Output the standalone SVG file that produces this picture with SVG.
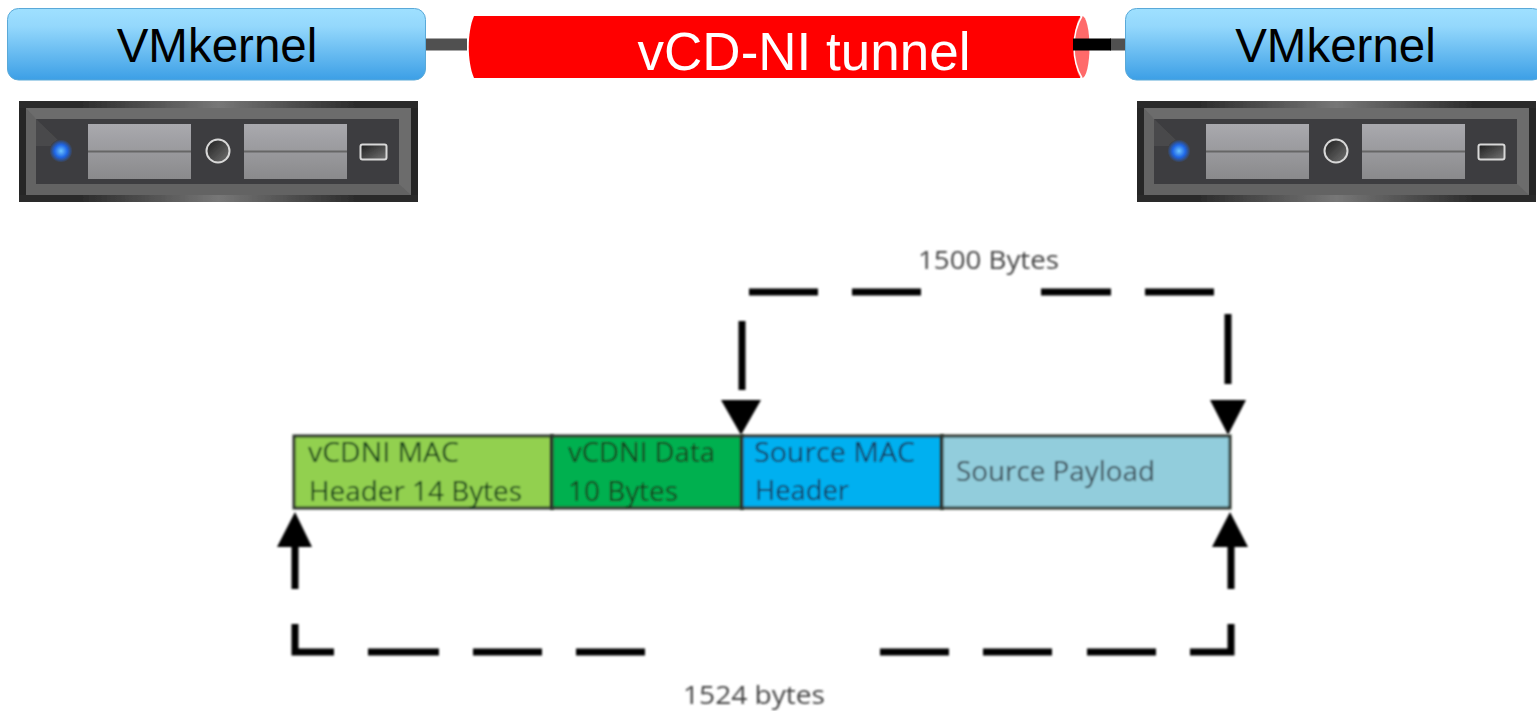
<svg xmlns="http://www.w3.org/2000/svg" xmlns:xlink="http://www.w3.org/1999/xlink" width="1537" height="711" viewBox="0 0 1537 711">
<style>
.vm{font:47.500px "Liberation Sans",Arial,sans-serif;fill:#000}
.cell{font-family:"Open Sans","Liberation Sans",sans-serif;font-size:27px;fill:#12401c}
.lab{font-family:"Open Sans","Liberation Sans",sans-serif;font-size:25px;fill:#444}
.d{fill:none;stroke:#000;stroke-width:7}
.c{stroke:#2a332a;stroke-width:3}
.soft{filter:url(#soft)}
.softer{filter:url(#softer)}
</style>
<defs>
<filter id="soft" x="-5%" y="-5%" width="110%" height="110%"><feGaussianBlur stdDeviation="0.9"/></filter>
<filter id="softer" x="-5%" y="-5%" width="110%" height="110%"><feGaussianBlur stdDeviation="0.6"/></filter>
<linearGradient id="blue" x1="0" y1="0" x2="0" y2="1"><stop offset="0" stop-color="#9fe0ff"/><stop offset=".25" stop-color="#94d8fc"/><stop offset="1" stop-color="#3c9fe6"/></linearGradient>
<linearGradient id="frame" x1="0" y1="0" x2="1" y2="0"><stop offset="0" stop-color="#2a2a2a"/><stop offset=".15" stop-color="#2a2a2a"/><stop offset=".5" stop-color="#777"/><stop offset=".85" stop-color="#2a2a2a"/><stop offset="1" stop-color="#2a2a2a"/></linearGradient>
<linearGradient id="bay" x1="0" y1="0" x2="0" y2="1"><stop offset="0" stop-color="#a9a9ae"/><stop offset="1" stop-color="#8a8a8c"/></linearGradient>
<linearGradient id="knob" x1="0" y1="0" x2="1" y2="1"><stop offset="0" stop-color="#1c1c1c"/><stop offset="1" stop-color="#747474"/></linearGradient>
<radialGradient id="led"><stop offset="0" stop-color="#6cc4ff"/><stop offset=".55" stop-color="#1f66e6"/><stop offset="1" stop-color="#3e3e40"/></radialGradient>
<g id="server">
<rect x="0" y="0" width="399" height="101" fill="#262626"/>
<rect x="0" y="0" width="399" height="7" fill="url(#frame)"/>
<rect x="0" y="94" width="399" height="7" fill="url(#frame)"/>
<rect x="7" y="7" width="385" height="87" fill="#6c6c6c"/>
<path d="M7 7L17 18V83H380L392 94H7Z" fill="#636363"/>
<rect x="17" y="18" width="363" height="65" fill="#3e3e40"/>
<path d="M17 18L45 45H17Z" fill="#4a4a4c"/>
<rect x="69" y="23" width="103" height="55" fill="url(#bay)"/>
<rect x="225" y="23" width="103" height="55" fill="url(#bay)"/>
<rect x="69" y="49.500" width="103" height="2" fill="#666"/>
<rect x="225" y="49.500" width="103" height="2" fill="#666"/>
<circle cx="42" cy="50" r="11.500" fill="url(#led)"/>
<circle cx="199" cy="50" r="11.500" fill="url(#knob)" stroke="#d8d8d8" stroke-width="2"/>
<rect x="341.500" y="43.500" width="26" height="15" rx="2" fill="url(#knob)" stroke="#d8d8d8" stroke-width="2"/>
</g>
</defs>
<g id="connectors">
<rect x="426" y="38.500" width="41" height="12" fill="#505050"/>
<rect x="1110" y="38.500" width="16" height="12" fill="#505050"/>
<g id="upper-bracket" class="soft">
<path class="d" d="M742 390V321M749 292H818M852 292H921M1041 292H1111M1145 292H1214M1228 314V384"/>
<path d="M721 400H761L741 435ZM1210 400H1246L1228 435Z"/>
</g>
<g id="lower-bracket" class="soft">
<path class="d" d="M295 545V589M295 624V652H334M368 652H439M473 652H542M576 652H645M880 652H949M983 652H1052M1087 652H1156M1190 652H1231V624M1231 589V545"/>
<path d="M277 547H312L295 512ZM1212 547H1248L1230 512Z"/>
</g>
</g>
<g id="vmkernel-left"><rect x="7.500" y="8.500" width="418" height="71.500" rx="11" fill="url(#blue)" stroke="#5aa9d8"/><text class="vm" x="217" y="62" text-anchor="middle">VMkernel</text></g>
<g id="vmkernel-right"><rect x="1125.500" y="8.500" width="418" height="71.500" rx="11" fill="url(#blue)" stroke="#5aa9d8"/><text class="vm" x="1335.500" y="62" text-anchor="middle">VMkernel</text></g>
<g id="tunnel">
<path d="M474 16H1080V78H474C467 62 467 32 474 16Z" fill="#f00"/>
<ellipse cx="1082" cy="47" rx="7.500" ry="31" fill="#ff6a6a"/>
<path d="M1082 16C1076 26 1074 36 1074 47C1074 58 1076 68 1082 78" fill="none" stroke="#fff" stroke-width="1.500"/>
<rect x="1073" y="38.500" width="38" height="12" fill="#000"/>
<text x="804" y="70" text-anchor="middle" font-family="'Liberation Sans',Arial,sans-serif" font-size="53" fill="#fff">vCD-NI tunnel</text>
</g>
<g id="server-left" class="softer"><use xlink:href="#server" href="#server" x="19" y="101"/></g>
<g id="server-right" class="softer"><use xlink:href="#server" href="#server" x="1137" y="101"/></g>
<g id="cell-vcdni-mac" class="soft"><rect class="c" x="294" y="436" width="258" height="72" fill="#92d050"/><text class="cell" x="308" y="462" textLength="151" lengthAdjust="spacingAndGlyphs">vCDNI MAC</text><text class="cell" x="309" y="501" textLength="213" lengthAdjust="spacingAndGlyphs">Header 14 Bytes</text></g>
<g id="cell-vcdni-data" class="soft"><rect class="c" x="552" y="436" width="190" height="72" fill="#00b050"/><text class="cell" x="568" y="462" textLength="147" lengthAdjust="spacingAndGlyphs">vCDNI Data</text><text class="cell" x="568" y="501" textLength="110" lengthAdjust="spacingAndGlyphs">10 Bytes</text></g>
<g id="cell-source-mac" class="soft"><rect class="c" x="742" y="436" width="200" height="72" fill="#00b0f0"/><text class="cell" x="754" y="462" textLength="161" lengthAdjust="spacingAndGlyphs" style="fill:#12395a">Source MAC</text><text class="cell" x="755" y="500" textLength="94" lengthAdjust="spacingAndGlyphs" style="fill:#12395a">Header</text></g>
<g id="cell-source-payload" class="soft"><rect class="c" x="942" y="436" width="288" height="72" fill="#92cddc"/><text class="cell" x="956" y="481" textLength="199" lengthAdjust="spacingAndGlyphs" style="fill:#3a4a52">Source Payload</text></g>
<text class="lab soft" x="918" y="269" textLength="141" lengthAdjust="spacingAndGlyphs">1500 Bytes</text>
<text class="lab soft" x="683" y="704" textLength="142" lengthAdjust="spacingAndGlyphs">1524 bytes</text>
</svg>
